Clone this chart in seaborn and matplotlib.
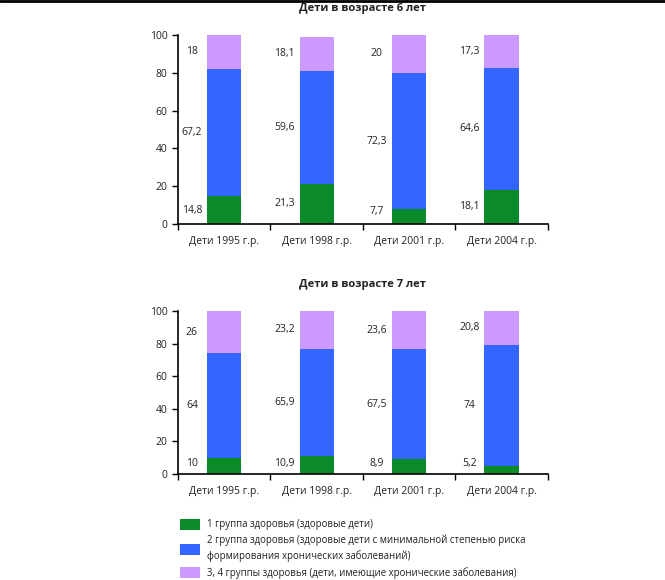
import numpy as np
import pandas as pd
import seaborn as sns
import matplotlib.pyplot as plt
from matplotlib.patches import Patch
from matplotlib.lines import Line2D

# Data
categories = ['Дети 1995 г.р.', 'Дети 1998 г.р.', 'Дети 2001 г.р.', 'Дети 2004 г.р.']
group1_6 = [14.8, 21.3, 7.7, 18.1]
group2_6 = [67.2, 59.6, 72.3, 64.6]
group34_6 = [18.0, 18.1, 20.0, 17.3]
group1_7 = [10.0, 10.9, 8.9, 5.2]
group2_7 = [64.0, 65.9, 67.5, 74.0]
group34_7 = [26.0, 23.2, 23.6, 20.8]
titles = ['Дети в возрасте 6 лет', 'Дети в возрасте 7 лет']
legend_labels = ['1 группа здоровья (здоровые дети)',
                 '2 группа здоровья (здоровые дети с минимальной степенью риска\nформирования хронических заболеваний)',
                 '3, 4 группы здоровья (дети, имеющие хронические заболевания)']

colors = ['#0a8a28', '#3366ff', '#cc99ff']

sns.set_style('white')
plt.rcParams['font.family'] = ['Open Sans', 'DejaVu Sans']
plt.rcParams['text.color'] = '#222222'
plt.rcParams['xtick.color'] = '#222222'
plt.rcParams['ytick.color'] = '#222222'

fig = plt.figure(figsize=(6.65, 5.8), dpi=100)
ax1 = fig.add_axes([0.2677, 0.6138, 0.556, 0.3259])
ax2 = fig.add_axes([0.2677, 0.1828, 0.556, 0.2810])


def fmt(v):
    s = f'{v:.1f}'.rstrip('0').rstrip('.')
    return s.replace('.', ',')


def draw(ax, g1, g2, g34, title):
    df = pd.DataFrame({'cat': categories, 'g1': g1, 'g2': g2, 'g34': g34})
    df['c2'] = df['g1'] + df['g2']
    df['c3'] = df['c2'] + df['g34']
    sns.barplot(data=df, x='cat', y='c3', color=colors[2], width=0.37,
                saturation=1, ax=ax, linewidth=0)
    sns.barplot(data=df, x='cat', y='c2', color=colors[1], width=0.37,
                saturation=1, ax=ax, linewidth=0)
    sns.barplot(data=df, x='cat', y='g1', color=colors[0], width=0.37,
                saturation=1, ax=ax, linewidth=0)
    for i, row in df.iterrows():
        ax.text(i - 0.35, max(row['g1'] / 2, 6.5), fmt(row['g1']), ha='center', va='center', fontsize=7.5)
        ax.text(i - 0.35, row['g1'] + row['g2'] / 2, fmt(row['g2']), ha='center', va='center', fontsize=7.5)
        ax.text(i - 0.35, row['c2'] + row['g34'] / 2, fmt(row['g34']), ha='center', va='center', fontsize=7.5)
    ax.set_xlim(-0.5, 3.5)
    ax.set_ylim(0, 100)
    ax.set_yticks(range(0, 101, 20))
    ax.set_xlabel('')
    ax.set_ylabel('')
    ax.set_title(title, fontsize=8, fontweight='bold', pad=17)
    ax.set_xticks(np.arange(-0.5, 4, 1), minor=True)
    ax.tick_params(axis='x', which='major', length=0, pad=9, labelsize=7.5)
    ax.tick_params(axis='x', which='minor', length=4, width=1, direction='out', color='black', bottom=True)
    ax.tick_params(axis='y', length=4, width=1, direction='out', color='black', left=True, labelsize=7.5)
    sns.despine(ax=ax)
    for s in ['left', 'bottom']:
        ax.spines[s].set_color('black')
        ax.spines[s].set_linewidth(1.2)


draw(ax1, group1_6, group2_6, group34_6, titles[0])
draw(ax2, group1_7, group2_7, group34_7, titles[1])

handles = [Patch(facecolor=c, edgecolor='none') for c in colors]
leg = fig.legend(handles, legend_labels, loc='upper left', bbox_to_anchor=(0.264, 0.114),
                 frameon=False, fontsize=6.95, handlelength=2.0, handleheight=1.35,
                 labelspacing=0.45, handletextpad=0.75, borderpad=0)
for t in leg.get_texts():
    t.set_linespacing(1.5)

fig.add_artist(Line2D([0, 1], [0.998, 0.998], color='black', lw=2, transform=fig.transFigure))

fig.savefig('out.png', dpi=100)
